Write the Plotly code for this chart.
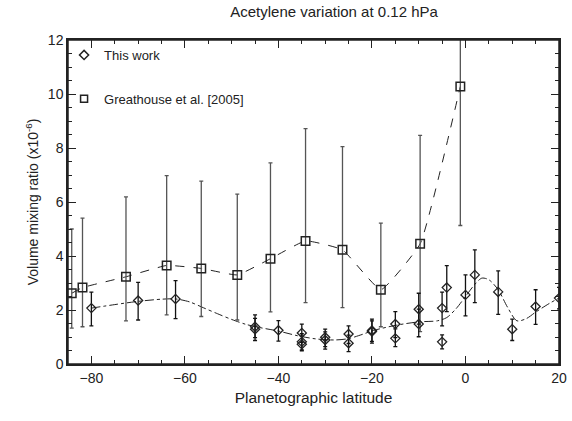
import plotly.graph_objects as go

# Greathouse et al. [2005]
gh_lat = [-84.2, -81.9, -72.6, -63.9, -56.5, -48.8, -41.7, -34.2, -26.3, -18.1, -9.7, -1.1]
gh_vmr = [2.62, 2.83, 3.23, 3.65, 3.54, 3.30, 3.90, 4.56, 4.23, 2.75, 4.45, 10.28]
gh_hi = [5.00, 5.40, 6.19, 6.98, 6.77, 6.29, 7.45, 8.72, 8.05, 5.22, 8.47, 15.4]
gh_lo = [1.33, 1.38, 1.60, 1.82, 1.76, 1.63, 1.93, 2.27, 2.09, 1.38, 1.20, 5.13]

# This work
tw_lat = [-80, -70, -62, -45, -45, -40, -35, -35, -35, -30, -30, -25, -25, -20, -20,
          -15, -15, -10, -10, -5, -5, -4, 0, 2, 7, 10, 15, 20]
tw_vmr = [2.07, 2.35, 2.41, 1.38, 1.29, 1.25, 1.15, 0.82, 0.73, 0.99, 0.89, 1.11, 0.77, 1.24, 1.20,
          1.48, 0.95, 2.03, 1.48, 2.07, 0.82, 2.83, 2.56, 3.30, 2.67, 1.29, 2.13, 2.44]
tw_ep = [0.59, 0.67, 0.68, 0.44, 0.40, 0.36, 0.33, 0.30, 0.30, 0.30, 0.30, 0.30, 0.30, 0.42, 0.40,
         0.46, 0.35, 0.59, 0.55, 0.59, 0.26, 0.81, 0.74, 0.93, 0.78, 0.37, 0.62, 0.40]
tw_em = [0.66, 0.72, 0.73, 0.40, 0.42, 0.40, 0.35, 0.30, 0.24, 0.35, 0.34, 0.35, 0.31, 0.40, 0.43,
         0.50, 0.31, 0.55, 0.47, 0.66, 0.26, 0.89, 0.78, 1.03, 0.83, 0.42, 0.66, 0.40]

# smooth fit through "this work"
fit_lat = [-80, -75, -70, -65, -62, -59, -56, -53, -50, -47, -44, -40, -36, -32, -28, -25, -22,
           -19.7, -15, -10, -6, -4, -2, 0, 2, 3.5, 5, 7, 9, 11, 13, 15, 18, 20]
fit_vmr = [2.07, 2.2, 2.32, 2.40, 2.41, 2.3, 2.08, 1.86, 1.65, 1.47, 1.35, 1.22, 1.05, 0.93, 0.89,
           0.94, 1.1, 1.24, 1.43, 1.56, 1.6, 1.72, 2.05, 2.5, 2.95, 3.18, 3.12, 2.75, 2.1, 1.6,
           1.68, 1.92, 2.25, 2.44]

x_ticks = [-80, -60, -40, -20, 0, 20]
y_ticks = [0, 2, 4, 6, 8, 10, 12]
x_range = [-85, 20]
y_range = [0, 12]

FONT = "Liberation Sans, Arial, sans-serif"
INK = "#222222"

fig = go.Figure()

fig.add_trace(go.Scatter(
    x=fit_lat, y=fit_vmr, mode="lines", showlegend=False,
    line=dict(color=INK, width=1, dash="dashdot", shape="spline", smoothing=0.8),
))
fig.add_trace(go.Scatter(
    x=gh_lat, y=gh_vmr, mode="lines", showlegend=False,
    line=dict(color=INK, width=1, dash="dash", shape="spline", smoothing=0.35),
))
fig.add_trace(go.Scatter(
    x=gh_lat, y=gh_vmr, mode="markers", showlegend=False,
    marker=dict(symbol="square-open", size=8.5, color=INK, line=dict(width=1.5, color=INK)),
    error_y=dict(type="data", symmetric=False,
                 array=[h - v for h, v in zip(gh_hi, gh_vmr)],
                 arrayminus=[v - l for v, l in zip(gh_vmr, gh_lo)],
                 color="#555555", thickness=1.3, width=2),
))
fig.add_trace(go.Scatter(
    x=tw_lat, y=tw_vmr, mode="markers", showlegend=False,
    marker=dict(symbol="diamond-open", size=7, color=INK, line=dict(width=1.3, color=INK)),
    error_y=dict(type="data", symmetric=False, array=tw_ep, arrayminus=tw_em,
                 color="#111111", thickness=1.3, width=2),
))
# legend entries
fig.add_trace(go.Scatter(
    x=[None], y=[None], mode="markers", name="This work", legendgroup="a",
    marker=dict(symbol="diamond-open", size=7, color=INK, line=dict(width=1.5, color=INK)),
))
fig.add_trace(go.Scatter(
    x=[None], y=[None], mode="markers", name="Greathouse et al. [2005]", legendgroup="b",
    marker=dict(symbol="square-open", size=7, color=INK, line=dict(width=1.5, color=INK)),
))
# carrier for the mirrored (top / right) axes
fig.add_trace(go.Scatter(x=[None], y=[None], xaxis="x2", yaxis="y2",
                         showlegend=False, hoverinfo="skip"))

axis_common = dict(
    showgrid=False, zeroline=False, showline=True, linecolor=INK, linewidth=1.5,
    ticks="inside", ticklen=8, tickcolor=INK, tickwidth=1, automargin=False,
    tickfont=dict(family=FONT, size=14, color=INK),
)

fig.update_layout(
    width=572, height=421,
    margin=dict(l=68, r=13, t=40, b=57, autoexpand=False),
    paper_bgcolor="white", plot_bgcolor="white",
    font=dict(family=FONT, color=INK),
    title=dict(text="Acetylene variation at 0.12 hPa", x=0.584, xanchor="center",
               y=0.972, yanchor="middle", font=dict(family=FONT, size=15, color=INK)),
    xaxis=dict(range=x_range, tickmode="array", tickvals=x_ticks,
               minor=dict(dtick=5, tick0=0, ticks="inside", ticklen=4, tickcolor=INK),
               title=dict(text="Planetographic latitude", font=dict(family=FONT, size=15.5, color=INK),
                          standoff=8),
               **axis_common),
    yaxis=dict(range=y_range, tickmode="array", tickvals=y_ticks,
               minor=dict(dtick=0.5, tick0=0, ticks="inside", ticklen=4, tickcolor=INK),
               title=dict(text="Volume mixing ratio (x10<sup>-6</sup>)",
                          font=dict(family=FONT, size=14, color=INK), standoff=6),
               **axis_common),
    xaxis2=dict(range=x_range, overlaying="x", side="top", anchor="y", tickmode="array",
                tickvals=x_ticks, showticklabels=False,
                minor=dict(dtick=5, tick0=0, ticks="inside", ticklen=4, tickcolor=INK),
                **axis_common),
    yaxis2=dict(range=y_range, overlaying="y", side="right", anchor="x", tickmode="array",
                tickvals=y_ticks, showticklabels=False,
                minor=dict(dtick=0.5, tick0=0, ticks="inside", ticklen=4, tickcolor=INK),
                **axis_common),
    legend=dict(x=-0.008, y=1.0, xanchor="left", yanchor="top", bgcolor="rgba(0,0,0,0)",
                font=dict(family=FONT, size=13, color=INK), itemwidth=30,
                tracegroupgap=24, traceorder="grouped"),
    shapes=[dict(type="rect", xref="paper", yref="paper", x0=0, x1=1, y0=0, y1=1,
                 line=dict(color=INK, width=1.5), layer="above")],
    showlegend=True,
)

fig.write_html("out.html", config={"displayModeBar": False},
               post_script="document.body.style.margin='0';")
